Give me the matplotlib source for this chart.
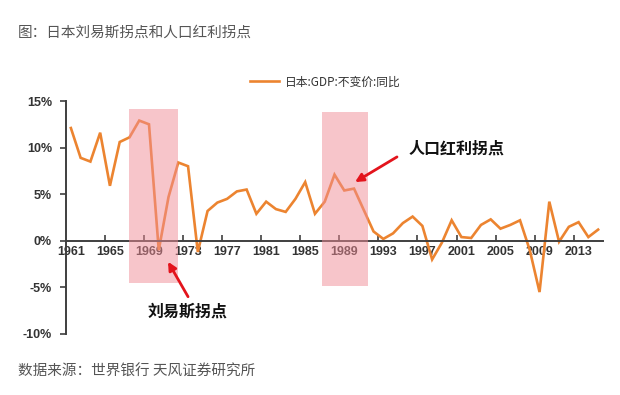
#!/usr/bin/env python3
"""
plot.py – Japan real GDP growth with Lewis turning point and demographic dividend turning point.
"""
import matplotlib
matplotlib.use("Agg")
import matplotlib.pyplot as plt
from matplotlib.patches import Rectangle
from matplotlib.ticker import FixedLocator, FuncFormatter

# ─── Data ────────────────────────────────────────────────────────────────
YEARS = list(range(1961, 2016))
GDP_YOY = [12.1, 8.9, 8.5, 11.6, 5.9, 10.6, 11.1, 12.9, 12.5, -1.0,
           4.7, 8.4, 8.0, -1.2, 3.2, 4.1, 4.5, 5.3, 5.5, 2.9,
           4.2, 3.4, 3.1, 4.5, 6.3, 2.9, 4.2, 7.1, 5.4, 5.6,
           3.3, 1.0, 0.2, 0.8, 1.9, 2.6, 1.6, -2.0, -0.2, 2.2,
           0.4, 0.3, 1.7, 2.3, 1.3, 1.7, 2.2, -1.0, -5.5, 4.2,
           -0.1, 1.5, 2.0, 0.4, 1.2]
SERIES_NAME = "日本:GDP:不变价:同比"
YTICKS = [-10, -5, 0, 5, 10, 15]
XLABEL_YEARS = list(range(1961, 2016, 4))

# highlighted periods (year span, value span)
HL_START = [1966.95, 1986.75]
HL_END = [1971.97, 1991.45]
HL_LOW = [-4.5, -4.9]
HL_HIGH = [14.15, 13.85]

TITLE = "图：日本刘易斯拐点和人口红利拐点"
SOURCE = "数据来源：世界银行 天风证券研究所"

# ─── Style ───────────────────────────────────────────────────────────────
plt.rcParams["font.family"] = ["Liberation Sans", "Noto Sans CJK SC", "DejaVu Sans"]
CJK = ["Noto Sans CJK SC", "DejaVu Sans"]
LINE_COLOR = "#EC8430"
AXIS_COLOR = "#3F3F3F"
TEXT_COLOR = "#333333"
ARROW_COLOR = "#E3141C"


def main():
    fig = plt.figure(figsize=(6.2, 3.95), dpi=100)
    ax = fig.add_axes([66 / 620, 61 / 395, 537 / 620, 233 / 395])

    ax.plot(YEARS, GDP_YOY, color=LINE_COLOR, lw=1.9, zorder=2,
            label=SERIES_NAME, solid_joinstyle="miter")

    for x0, x1, y0, y1 in zip(HL_START, HL_END, HL_LOW, HL_HIGH):
        ax.add_patch(Rectangle((x0, y0), x1 - x0, y1 - y0, facecolor="#F08C96",
                               alpha=0.5, edgecolor="none", zorder=3))

    ax.set_xlim(YEARS[0] - 0.5, YEARS[-1] + 0.5)
    ax.set_ylim(YTICKS[0], YTICKS[-1])

    # spines
    for s in ("top", "right"):
        ax.spines[s].set_visible(False)
    ax.spines["bottom"].set_position(("data", 0))
    for s in ("bottom", "left"):
        ax.spines[s].set_color(AXIS_COLOR)
        ax.spines[s].set_linewidth(1.4)

    # y axis
    ax.yaxis.set_major_locator(FixedLocator(YTICKS))
    ax.yaxis.set_major_formatter(FuncFormatter(lambda v, _: f"{v:.0f}%"))
    ax.tick_params(axis="y", direction="out", length=4, width=1.2,
                   color=AXIS_COLOR, labelcolor=TEXT_COLOR, labelsize=9, pad=6)
    for t in ax.get_yticklabels():
        t.set_fontweight("bold")

    # x axis: tick marks between categories, labels on categories
    boundaries = [y - 0.5 for y in XLABEL_YEARS[1:]]
    ax.xaxis.set_major_locator(FixedLocator(boundaries))
    ax.xaxis.set_major_formatter(FuncFormatter(lambda v, _: ""))
    ax.xaxis.set_minor_locator(FixedLocator(XLABEL_YEARS))
    ax.xaxis.set_minor_formatter(FuncFormatter(lambda v, _: f"{v:.0f}"))
    ax.tick_params(axis="x", which="major", direction="in", length=4, width=1.2,
                   color=AXIS_COLOR)
    ax.tick_params(axis="x", which="minor", length=0, pad=4,
                   labelcolor=TEXT_COLOR, labelsize=9)
    for t in ax.get_xticklabels(minor=True):
        t.set_fontweight("bold")

    # legend
    leg = ax.legend(loc="center", bbox_to_anchor=(0.483, 1.0815), frameon=False,
                    prop={"family": CJK, "size": 8.5}, handlelength=2.4,
                    handletextpad=0.5, borderpad=0)
    for t in leg.get_texts():
        t.set_color(TEXT_COLOR)

    # annotations
    arrow = dict(arrowstyle="-|>", color=ARROW_COLOR, lw=2,
                 mutation_scale=12, shrinkA=0, shrinkB=0)
    ax.annotate("", xy=(1990.1, 6.3), xytext=(1994.4, 9.0),
                arrowprops=arrow, zorder=4)
    ax.text(1995.6, 9.9, "人口红利拐点", family=CJK, fontsize=11.5,
            fontweight="bold", va="center", ha="left", color="#111111", zorder=4)
    ax.annotate("", xy=(1970.95, -2.25), xytext=(1973.0, -6.0),
                arrowprops=arrow, zorder=4)
    ax.text(1972.9, -7.6, "刘易斯拐点", family=CJK, fontsize=11.5,
            fontweight="bold", va="center", ha="center", color="#111111", zorder=4)

    # title and source
    fig.text(18 / 620, 1 - 33 / 395, TITLE, family=CJK, fontsize=10.5,
             color="#555555", va="center", ha="left")
    fig.text(18 / 620, 1 - 372 / 395, SOURCE, family=CJK, fontsize=10.5,
             color="#555555", va="center", ha="left")

    fig.savefig("out.png", dpi=100, facecolor="white")


if __name__ == "__main__":
    main()
